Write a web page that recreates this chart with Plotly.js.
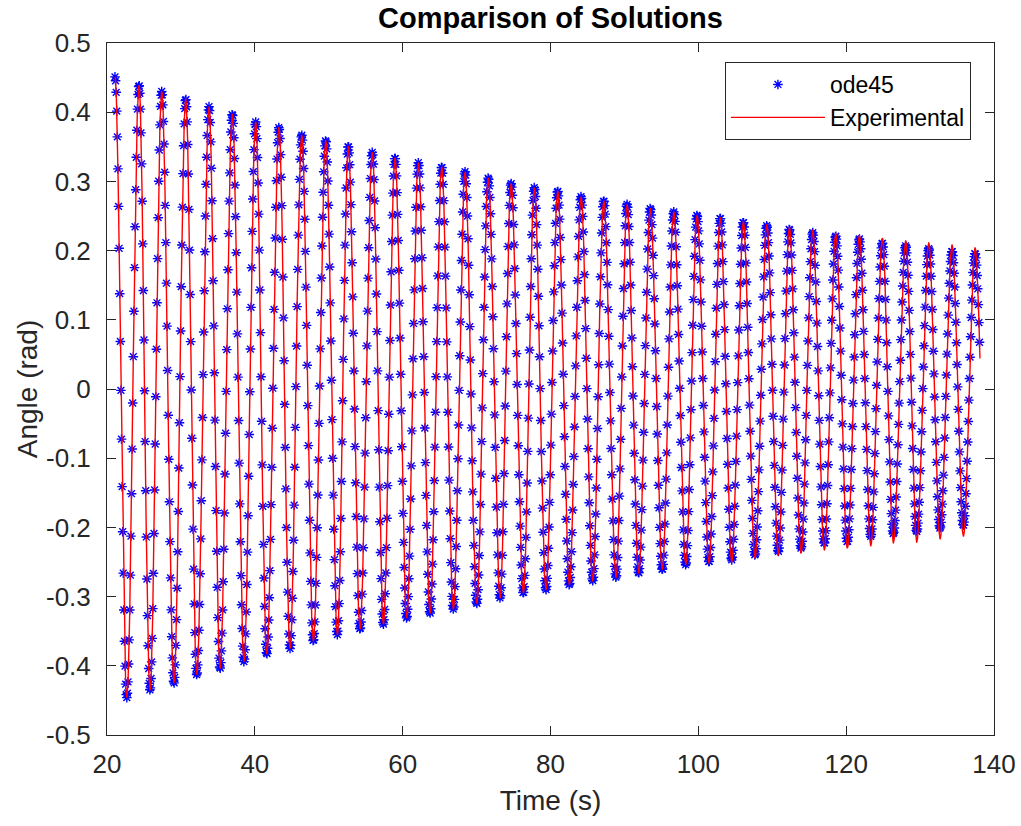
<!DOCTYPE html>
<html>
<head>
<meta charset="utf-8">
<script src="https://cdn.plot.ly/plotly-3.0.1.min.js"></script>
<style>
  html, body { margin: 0; padding: 0; background: #ffffff; }
  #chart { width: 1021px; height: 826px; }
</style>
</head>
<body>
<div id="chart"></div>
<script>
// ---- Values ----
// Times (s) of the successive maxima of the swing
const peakTime = [21.08, 24.33, 27.40, 30.65, 33.80, 36.95, 40.11, 43.26, 46.34, 49.59,
                  52.64, 55.89, 58.96, 62.12, 65.28, 68.43, 71.58, 74.66, 77.81, 80.97,
                  84.13, 87.20, 90.35, 93.50, 96.67, 99.82, 102.96, 106.08, 109.25, 112.31,
                  115.47, 118.58, 121.78, 124.89, 128.05, 131.17, 134.32, 137.43];
// Experimental maxima (rad)
const expPeakAngle = [0.451, 0.439, 0.430, 0.419, 0.408, 0.397, 0.386, 0.378, 0.367, 0.359,
                      0.351, 0.342, 0.334, 0.327, 0.321, 0.314, 0.305, 0.297, 0.291, 0.286,
                      0.278, 0.272, 0.267, 0.261, 0.256, 0.251, 0.248, 0.242, 0.238, 0.234,
                      0.229, 0.225, 0.222, 0.218, 0.214, 0.211, 0.208, 0.204];
// ode45 maxima (rad)
const odePeakAngle = [0.451, 0.439, 0.430, 0.419, 0.408, 0.397, 0.386, 0.378, 0.367, 0.359,
                      0.351, 0.342, 0.334, 0.327, 0.321, 0.314, 0.305, 0.297, 0.291, 0.286,
                      0.278, 0.272, 0.267, 0.261, 0.256, 0.251, 0.247, 0.241, 0.236, 0.231,
                      0.226, 0.221, 0.217, 0.211, 0.207, 0.203, 0.199, 0.196];
// Times (s) of the successive minima
const troughTime = [22.67, 25.82, 29.06, 32.14, 35.29, 38.53, 41.61, 44.76, 47.91, 51.16,
                    54.23, 57.38, 60.54, 63.70, 66.85, 70.02, 73.17, 76.32, 79.39, 82.54,
                    85.71, 88.86, 91.93, 95.12, 98.29, 101.44, 104.51, 107.66, 110.82, 113.89,
                    117.04, 120.15, 123.32, 126.37, 129.54, 132.69, 135.85];
// Experimental minima (rad)
const expTroughAngle = [-0.446, -0.435, -0.425, -0.413, -0.404, -0.394, -0.383, -0.375, -0.364, -0.355,
                        -0.347, -0.340, -0.331, -0.324, -0.318, -0.310, -0.302, -0.295, -0.290, -0.283,
                        -0.277, -0.272, -0.266, -0.261, -0.254, -0.252, -0.250, -0.245, -0.240, -0.237,
                        -0.233, -0.230, -0.227, -0.223, -0.221, -0.217, -0.213];
// ode45 minima (rad)
const odeTroughAngle = [-0.446, -0.435, -0.425, -0.413, -0.404, -0.394, -0.383, -0.375, -0.364, -0.355,
                        -0.347, -0.340, -0.331, -0.324, -0.318, -0.310, -0.302, -0.295, -0.290, -0.283,
                        -0.277, -0.272, -0.266, -0.261, -0.254, -0.250, -0.247, -0.240, -0.235, -0.230,
                        -0.223, -0.221, -0.213, -0.209, -0.206, -0.201, -0.197];
// Where each record stops (s) and the swing it is heading to when it stops
const expEndTime = 138.10;
const odeEndTime = 138.00;
const nextTroughTime = 139.00;
const expNextTroughAngle = -0.210;
const odeNextTroughAngle = -0.195;
// Sampling step of the records (s), read from the star spacing
const odeStep = 0.08;
const expStep = 0.02;

const xTickVals = [20, 40, 60, 80, 100, 120, 140];
const xTickText = ['20', '40', '60', '80', '100', '120', '140'];
const yTickVals = [-0.5, -0.4, -0.3, -0.2, -0.1, 0, 0.1, 0.2, 0.3, 0.4, 0.5];
const yTickText = ['-0.5', '-0.4', '-0.3', '-0.2', '-0.1', '0', '0.1', '0.2', '0.3', '0.4', '0.5'];

// ---- Build the sampled records by joining the read extrema with half-swings ----
function extremaList(peaks, troughs, endAngle) {
  const ts = [], vs = [];
  for (let i = 0; i < peakTime.length; i++) {
    ts.push(peakTime[i]); vs.push(peaks[i]);
    if (i < troughTime.length) { ts.push(troughTime[i]); vs.push(troughs[i]); }
  }
  ts.push(nextTroughTime); vs.push(endAngle);
  return { ts, vs };
}
function sample(ext, t0, t1, step) {
  const xs = [], ys = [];
  let k = 0;
  const n = Math.round((t1 - t0) / step);
  for (let j = 0; j <= n; j++) {
    const t = t0 + j * step;
    while (k < ext.ts.length - 2 && t > ext.ts[k + 1]) k++;
    const ta = ext.ts[k], tb = ext.ts[k + 1];
    const va = ext.vs[k], vb = ext.vs[k + 1];
    const f = Math.min(1, Math.max(0, (t - ta) / (tb - ta)));
    const w = (1 + Math.cos(Math.PI * f)) / 2;
    xs.push(+t.toFixed(3));
    ys.push(vb + (va - vb) * w);
  }
  return { xs, ys };
}
const odeExt = extremaList(odePeakAngle, odeTroughAngle, odeNextTroughAngle);
const expExt = extremaList(expPeakAngle, expTroughAngle, expNextTroughAngle);
const ode = sample(odeExt, peakTime[0], odeEndTime, odeStep);
const exp = sample(expExt, peakTime[0], expEndTime, expStep);

const axisColor = '#262626';
const fontFamily = 'Liberation Sans, Arial, Helvetica, sans-serif';

const traces = [
  {
    x: ode.xs, y: ode.ys, name: 'ode45', type: 'scatter', mode: 'markers',
    marker: { symbol: 'asterisk-open', size: 8, color: '#0000ff', line: { color: '#0000ff', width: 1.4 } }
  },
  {
    x: exp.xs, y: exp.ys, name: 'Experimental', type: 'scatter', mode: 'lines',
    line: { color: '#ff0000', width: 1.4 }
  }
];

const layout = {
  width: 1021, height: 826,
  margin: { l: 107, r: 27, t: 43, b: 91 },
  paper_bgcolor: '#ffffff', plot_bgcolor: '#ffffff',
  font: { family: fontFamily, color: axisColor, size: 26 },
  title: {
    text: '<b>Comparison of Solutions</b>',
    font: { family: fontFamily, size: 29, color: '#000000' },
    xref: 'paper', x: 0.5, xanchor: 'center',
    yref: 'container', y: 0.978, yanchor: 'middle'
  },
  showlegend: true,
  legend: {
    x: 0.974, y: 0.9725, xanchor: 'right', yanchor: 'top',
    bgcolor: '#ffffff', bordercolor: axisColor, borderwidth: 1,
    font: { family: fontFamily, size: 23, color: '#000000' },
    itemwidth: 94, tracegroupgap: 0
  },
  xaxis: {
    range: [20, 140], tickmode: 'array', tickvals: xTickVals, ticktext: xTickText,
    ticks: 'inside', ticklen: 9, tickwidth: 1, tickcolor: axisColor,
    showline: true, linecolor: axisColor, linewidth: 1, mirror: 'ticks',
    showgrid: false, zeroline: false, ticklabelstandoff: 6,
    tickfont: { family: fontFamily, size: 26, color: axisColor },
    title: { text: 'Time (s)', font: { family: fontFamily, size: 28, color: axisColor }, standoff: 12 },
    automargin: false
  },
  yaxis: {
    range: [-0.5, 0.5], tickmode: 'array', tickvals: yTickVals, ticktext: yTickText,
    ticks: 'inside', ticklen: 9, tickwidth: 1, tickcolor: axisColor,
    showline: true, linecolor: axisColor, linewidth: 1, mirror: 'ticks',
    showgrid: false, zeroline: false, ticklabelstandoff: 10,
    tickfont: { family: fontFamily, size: 26, color: axisColor },
    title: { text: 'Angle (rad)', font: { family: fontFamily, size: 28, color: axisColor }, standoff: 0 },
    automargin: false
  }
};

Plotly.newPlot('chart', traces, layout, { displayModeBar: false, staticPlot: true });
</script>
</body>
</html>
